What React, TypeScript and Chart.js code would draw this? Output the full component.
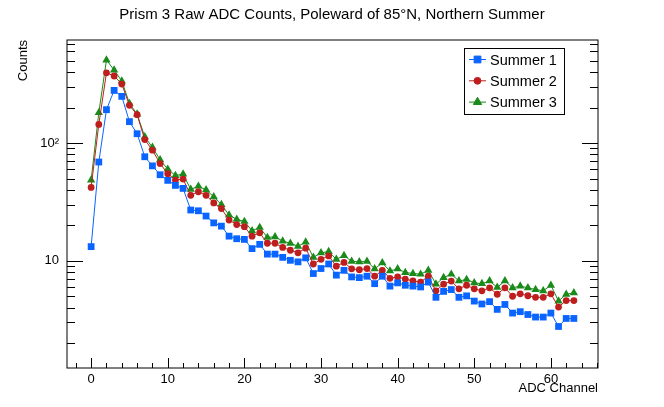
import React, { useEffect, useRef } from 'react';
import { Chart, registerables } from 'chart.js';
import { drawPoint } from 'chart.js/helpers';

Chart.register(...registerables);

const FONT = '"Liberation Sans", Arial, Helvetica, sans-serif';

const channels = [
  0, 1, 2, 3, 4, 5, 6, 7, 8, 9, 10, 11, 12, 13, 14, 15,
  16, 17, 18, 19, 20, 21, 22, 23, 24, 25, 26, 27, 28, 29, 30, 31,
  32, 33, 34, 35, 36, 37, 38, 39, 40, 41, 42, 43, 44, 45, 46, 47,
  48, 49, 50, 51, 52, 53, 54, 55, 56, 57, 58, 59, 60, 61, 62, 63,
];

const summer1 = [
  13.2, 69, 192, 280, 249, 152, 120, 76.5, 64, 53.8, 48.2, 43.7, 41.2, 27, 26.6, 24,
  21, 19.7, 16.2, 15.4, 15.2, 12.7, 13.8, 11.4, 11.4, 10.7, 10.1, 9.8, 10.6, 7.8, 8.6, 9.4,
  7.56, 8.3, 7.3, 7.2, 7.4, 6.4, 7.4, 6.1, 6.5, 6.2, 6.1, 6.0, 6.6, 4.9, 5.5, 5.7,
  4.9, 5.04, 4.55, 4.3, 4.5, 3.87, 4.26, 3.6, 3.7, 3.5, 3.33, 3.33, 3.6, 2.77, 3.24, 3.24,
];

const summer2 = [
  42, 144, 395, 371, 317, 209, 174, 107, 87, 67, 55, 48.5, 49.4, 36, 38.6, 36,
  31, 27.8, 22.2, 20.3, 19.5, 16.2, 17.3, 14.1, 14.1, 13, 12.3, 11.7, 12.8, 9.4, 10.3, 11,
  9.0, 9.7, 8.55, 8.4, 8.6, 7.4, 8.3, 7.1, 7.3, 7.0, 6.75, 6.6, 7.4, 5.56, 6.34, 6.73,
  5.78, 6.2, 5.78, 5.56, 5.9, 5.2, 5.9, 5.0, 5.25, 5.05, 4.9, 4.9, 5.25, 4.05, 4.6, 4.6,
];

const summer3 = [
  48.5, 181, 507, 417, 336, 217, 176, 113, 92, 72, 60, 53, 54.5, 40.4, 43, 40,
  35, 30, 24.5, 22.5, 21.6, 18, 19.2, 15.8, 16, 14.7, 14.1, 13.3, 14.4, 10.7, 11.7, 12,
  10.3, 11.1, 9.9, 9.8, 9.9, 8.55, 9.6, 8.2, 8.55, 7.96, 7.8, 7.7, 8.3, 6.34, 7.2, 7.7,
  6.75, 6.95, 6.5, 6.4, 6.75, 5.95, 6.75, 5.9, 6.1, 5.9, 5.7, 5.56, 6.2, 4.55, 5.2, 5.35,
];

const seriesLabels = ['Summer 1', 'Summer 2', 'Summer 3'];

const xMajorTicks = [0, 10, 20, 30, 40, 50, 60];
const xMinorTicks = [-2, 2, 4, 6, 8, 12, 14, 16, 18, 22, 24, 26, 28, 32, 34, 36, 38, 42, 44, 46, 48, 52, 54, 56, 58, 62, 64, 66];
const yMajorTicks = [10, 100];
const yTickLabels = ['10', '10\u00b2'];
const yMinorTicks = [2, 3, 4, 5, 6, 7, 8, 9, 20, 30, 40, 50, 60, 70, 80, 90, 200, 300, 400, 500, 600, 700];

const frameTicks = {
  id: 'frameTicks',
  afterDraw(chart: any) {
    const { ctx, chartArea } = chart;
    const { left, right, top, bottom } = chartArea;
    const xs = chart.scales.x;
    const ys = chart.scales.y;
    ctx.save();
    ctx.strokeStyle = '#000';
    ctx.lineWidth = 1;
    ctx.strokeRect(left, top, right - left, bottom - top);
    ctx.beginPath();
    const xTick = (v: number, len: number) => {
      const px = Math.round(xs.getPixelForValue(v)) + 0.5;
      if (px < left || px > right) return;
      ctx.moveTo(px, bottom);
      ctx.lineTo(px, bottom - len);
    };
    xMajorTicks.forEach((v) => xTick(v, 10));
    xMinorTicks.forEach((v) => xTick(v, 5));
    const yTick = (v: number, len: number) => {
      const py = Math.round(ys.getPixelForValue(v)) + 0.5;
      if (py < top || py > bottom) return;
      ctx.moveTo(left, py);
      ctx.lineTo(left + len, py);
      ctx.moveTo(right, py);
      ctx.lineTo(right - len, py);
    };
    yMajorTicks.forEach((v) => yTick(v, 16));
    yMinorTicks.forEach((v) => yTick(v, 8));
    ctx.stroke();
    ctx.restore();
  },
};

const boxLegend = {
  id: 'boxLegend',
  afterDraw(chart: any) {
    const { ctx, chartArea } = chart;
    const bx = chartArea.right - 134;
    const by = chartArea.top + 8;
    const bw = 100;
    const bh = 66;
    ctx.save();
    ctx.fillStyle = '#fff';
    ctx.fillRect(bx, by, bw, bh);
    ctx.strokeStyle = '#000';
    ctx.lineWidth = 1;
    ctx.strokeRect(Math.round(bx) + 0.5, Math.round(by) + 0.5, bw, bh);
    chart.data.datasets.forEach((ds: any, i: number) => {
      const cy = by + 11.5 + i * 21.3;
      ctx.strokeStyle = ds.borderColor;
      ctx.lineWidth = 1;
      ctx.beginPath();
      ctx.moveTo(bx + 5, cy);
      ctx.lineTo(bx + 22, cy);
      ctx.stroke();
      ctx.fillStyle = ds.pointBackgroundColor;
      ctx.strokeStyle = ds.borderColor;
      drawPoint(ctx, { pointStyle: ds.pointStyle, radius: ds.pointRadius, borderWidth: 1, rotation: 0 }, bx + 13.5, cy);
      ctx.fillStyle = '#000';
      ctx.font = `14.5px ${FONT}`;
      ctx.textBaseline = 'middle';
      ctx.textAlign = 'left';
      ctx.fillText(ds.label, bx + 26, cy + 1);
    });
    ctx.restore();
  },
};

const colors = ['#0a64ff', '#bf1e1e', '#1a8a1a'];
const styles = ['rect', 'circle', 'triangle'];
const radii = [4.8, 3.4, 4.8];

const App: React.FC = () => {
  const canvasRef = useRef<HTMLCanvasElement>(null);
  const chartRef = useRef<Chart | null>(null);

  useEffect(() => {
    if (!canvasRef.current) return;
    if (chartRef.current) chartRef.current.destroy();

    const series = [summer1, summer2, summer3];
    chartRef.current = new Chart(canvasRef.current, {
      type: 'line',
      data: {
        datasets: series.map((vals, i) => ({
          label: seriesLabels[i],
          data: channels.map((c, j) => ({ x: c, y: vals[j] })),
          borderColor: colors[i],
          backgroundColor: colors[i],
          pointBackgroundColor: colors[i],
          pointBorderColor: colors[i],
          pointStyle: styles[i],
          pointRadius: radii[i],
          pointBorderWidth: 0,
          borderWidth: 1,
          tension: 0,
          fill: false,
        })) as any,
      },
      options: {
        animation: false,
        responsive: true,
        maintainAspectRatio: false,
        layout: { padding: 0 },
        plugins: {
          legend: { display: false },
          tooltip: { enabled: false },
          title: {
            display: true,
            text: 'Prism 3 Raw ADC Counts, Poleward of 85\u00b0N, Northern Summer',
            color: '#000',
            font: { family: FONT, size: 15, weight: 'normal' },
            padding: { top: 6, bottom: 16 },
          },
        },
        scales: {
          x: {
            type: 'linear',
            min: -3.15,
            max: 66.15,
            grid: { display: false, drawTicks: false },
            border: { display: false },
            afterBuildTicks: (scale: any) => {
              scale.ticks = xMajorTicks.map((v) => ({ value: v }));
            },
            afterFit: (scale: any) => {
              scale.height = 39;
            },
            ticks: {
              autoSkip: false,
              maxRotation: 0,
              padding: 4,
              color: '#000',
              font: { family: FONT, size: 13 },
            },
            title: {
              display: true,
              text: 'ADC Channel',
              align: 'end',
              color: '#000',
              font: { family: FONT, size: 13 },
              padding: { top: 0, bottom: 11 },
            },
          },
          y: {
            type: 'logarithmic',
            min: 1.23,
            max: 750,
            grid: { display: false, drawTicks: false },
            border: { display: false },
            afterBuildTicks: (scale: any) => {
              scale.ticks = yMajorTicks.map((v) => ({ value: v }));
            },
            afterFit: (scale: any) => {
              scale.width = 67;
            },
            ticks: {
              autoSkip: false,
              padding: 8,
              color: '#000',
              font: { family: FONT, size: 13 },
              callback: (v: any) => {
                const k = yMajorTicks.indexOf(Number(v));
                return k >= 0 ? yTickLabels[k] : '';
              },
            },
            title: {
              display: true,
              text: 'Counts',
              align: 'end',
              color: '#000',
              font: { family: FONT, size: 13 },
              padding: { top: 16, bottom: 0 },
            },
          },
          yRight: {
            type: 'linear',
            position: 'right',
            display: true,
            grid: { display: false, drawTicks: false },
            border: { display: false },
            ticks: { display: false },
            afterFit: (scale: any) => {
              scale.width = 66;
            },
          },
        },
      },
      plugins: [frameTicks, boxLegend],
    });

    return () => {
      if (chartRef.current) {
        chartRef.current.destroy();
        chartRef.current = null;
      }
    };
  }, []);

  return (
    <div style={{ position: 'fixed', left: 0, top: 0, width: 664, height: 407, background: '#fff' }}>
      <canvas ref={canvasRef}></canvas>
    </div>
  );
};

export default App;
